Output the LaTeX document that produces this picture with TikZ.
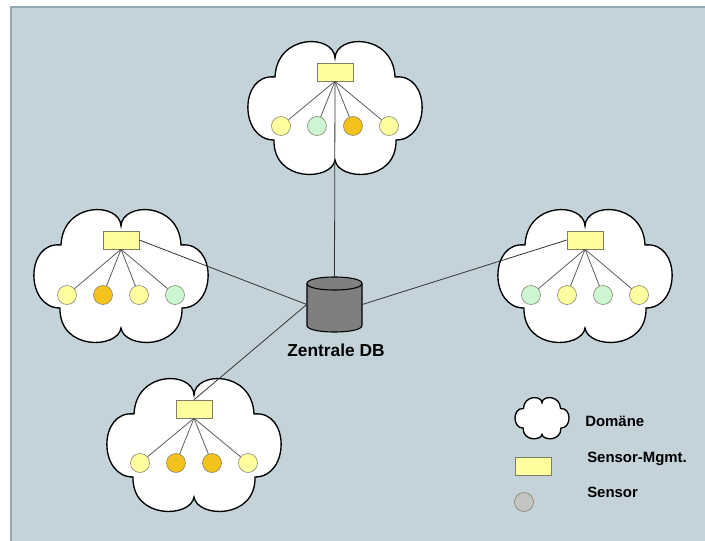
\documentclass[tikz,border=0pt]{standalone}
\usepackage{fontspec}
\setmainfont{Liberation Sans}
\definecolor{hgrund}{HTML}{C4D3DA}
\definecolor{hkante}{HTML}{8EA8AE}
\definecolor{gelb}{HTML}{FFFFA0}
\definecolor{gruen}{HTML}{CCF5D2}
\definecolor{orange}{HTML}{F4C21C}
\definecolor{rahmen}{HTML}{7E7E62}
\definecolor{linie}{HTML}{5E5E5E}
\definecolor{dbgrau}{HTML}{7F7F7F}
\definecolor{sgrau}{HTML}{C4C4C4}

\begin{document}
\begin{tikzpicture}[x=0.75pt, y=-0.75pt,
  every node/.style={inner sep=0pt},
  wolke/.style={draw=black, fill=white, line width=1pt},
  mgmt/.style={rectangle, draw=rahmen, fill=gelb, minimum width=27pt, minimum height=13.5pt},
  s/.style={circle, draw=rahmen, minimum size=14.25pt},
  ast/.style={draw=linie, line width=0.6pt},
  verb/.style={draw=black!80, line width=0.6pt},
  db/.style={rectangle, minimum width=41.25pt, minimum height=41.25pt},
  dbs/.style={draw=black, fill=dbgrau, line width=0.8pt},
  txt/.style={font=\bfseries\fontsize{11.2}{13}\selectfont, anchor=base west},
  domaene/.pic={
    \path[wolke] (0,-51) .. controls (-1,-75) and (-58,-76) .. (-60,-32)
      .. controls (-96,-36) and (-96,31) .. (-61,31)
      .. controls (-62,74) and (-3,72) .. (0,51)
      .. controls (3,72) and (62,74) .. (61,31)
      .. controls (96,31) and (96,-36) .. (60,-32)
      .. controls (58,-76) and (1,-75) .. (0,-51) -- cycle;
  }]
  \useasboundingbox (0,0) rectangle (705,541);
  \fill[hgrund] (10,7) rectangle (705,541);
  \draw[hkante, line width=1.5pt] (10.5,541) -- (10.5,7.5) -- (705,7.5);

  % Domaenen
  \pic at (335,109) {domaene};
  \pic at (121,277) {domaene};
  \pic at (585,277) {domaene};
  \pic at (194,446) {domaene};

  % oben
  \node[mgmt] (mo) at (335,72) {};
  \node[s, fill=gelb] (o1) at (281,126) {};
  \node[s, fill=gruen] (o2) at (317,126) {};
  \node[s, fill=orange] (o3) at (353,126) {};
  \node[s, fill=gelb] (o4) at (389,126) {};

  % links
  \node[mgmt] (ml) at (121,240) {};
  \node[s, fill=gelb] (l1) at (67,295) {};
  \node[s, fill=orange] (l2) at (103,295) {};
  \node[s, fill=gelb] (l3) at (139,295) {};
  \node[s, fill=gruen] (l4) at (175,295) {};

  % rechts
  \node[mgmt] (mr) at (585,240) {};
  \node[s, fill=gruen] (r1) at (531,295) {};
  \node[s, fill=gelb] (r2) at (567,295) {};
  \node[s, fill=gruen] (r3) at (603,295) {};
  \node[s, fill=gelb] (r4) at (639,295) {};

  % unten
  \node[mgmt] (mu) at (194,409) {};
  \node[s, fill=gelb] (u1) at (140,463) {};
  \node[s, fill=orange] (u2) at (176,463) {};
  \node[s, fill=orange] (u3) at (212,463) {};
  \node[s, fill=gelb] (u4) at (248,463) {};

  \draw[ast] (mo.south) -- (o1);
  \draw[ast] (mo.south) -- (o2);
  \draw[ast] (mo.south) -- (o3);
  \draw[ast] (mo.south) -- (o4);
  \draw[ast] (ml.south) -- (l1);
  \draw[ast] (ml.south) -- (l2);
  \draw[ast] (ml.south) -- (l3);
  \draw[ast] (ml.south) -- (l4);
  \draw[ast] (mr.south) -- (r1);
  \draw[ast] (mr.south) -- (r2);
  \draw[ast] (mr.south) -- (r3);
  \draw[ast] (mr.south) -- (r4);
  \draw[ast] (mu.south) -- (u1);
  \draw[ast] (mu.south) -- (u2);
  \draw[ast] (mu.south) -- (u3);
  \draw[ast] (mu.south) -- (u4);

  % zentrale Datenbank (Zylinder)
  \node[db] (db) at (334.5,304.5) {};
  \path[dbs] (307,283.5) -- (307,325.5) .. controls (307,334.2) and (362,334.2) .. (362,325.5)
    -- (362,283.5) .. controls (362,274.8) and (307,274.8) .. (307,283.5) -- cycle;
  \draw[dbs, fill=none] (307,283.5) .. controls (307,292.2) and (362,292.2) .. (362,283.5);
  \node[font=\bfseries\fontsize{13}{15}\selectfont, anchor=base] (dbtxt) at (336,356.7) {Zentrale DB};

  \draw[verb] (db.north) -- (mo.south);
  \draw[verb] (db.west) -- (ml.east);
  \draw[verb] (db.east) -- (mr.west);
  \draw[verb] (db.west) -- (mu.north);

  % Legende
  \pic[scale=0.31] at (542,418.5) {domaene};
  \node[mgmt] (lm) at (533,466.5) {};
  \node[s, fill=sgrau] (ls) at (524,502) {};
  \node[txt] (t1) at (585,426) {Domäne};
  \node[txt] (t2) at (587,462.7) {Sensor-Mgmt.};
  \node[txt] (t3) at (587,497.7) {Sensor};
\end{tikzpicture}
\end{document}
